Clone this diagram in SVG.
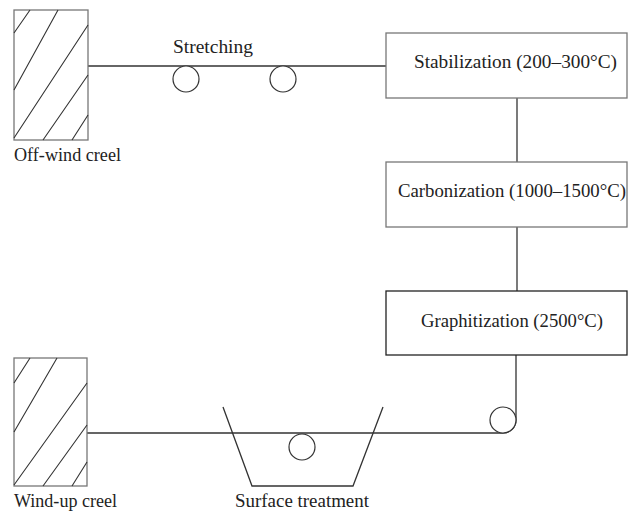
<svg xmlns="http://www.w3.org/2000/svg" width="628" height="512" viewBox="0 0 628 512">
<style>
.ln{fill:none;stroke:#333;stroke-width:1.3}
.box{fill:#fff;stroke:#777;stroke-width:1.3}
.box2{fill:#fff;stroke:#222;stroke-width:1.3}
.hatch{fill:none;stroke:#333;stroke-width:1.1}
.roll{fill:#fff;stroke:#333;stroke-width:1.2}
text{font-family:"Liberation Serif","DejaVu Serif",serif;font-size:18px;fill:#222}
</style>
<rect width="628" height="512" fill="#fff"/>
<g id="connectors">
<line class="ln" x1="88" y1="66" x2="386" y2="66"/>
<line class="ln" x1="517" y1="98" x2="517" y2="162"/>
<line class="ln" x1="517" y1="227" x2="517" y2="291"/>
<path class="ln" d="M516,355 V420 A13,13 0 0 1 503,433 H87"/>
</g>
<g id="offwind">
<rect class="box" x="14" y="10" width="74" height="130" stroke="#444"/>
<path class="hatch" d="M14,33 L30,10 M14,90 L58,10 M14,138 L88,25 M43,140 L88,75 M72,140 L88,115"/>
<text x="14" y="161" textLength="107" lengthAdjust="spacingAndGlyphs">Off-wind creel</text>
</g>
<g id="stretching">
<circle class="roll" cx="186" cy="79" r="13"/>
<circle class="roll" cx="283" cy="79" r="13"/>
<text x="173" y="53" textLength="80" lengthAdjust="spacingAndGlyphs">Stretching</text>
</g>
<g id="stabilization">
<rect class="box" x="386" y="33" width="241" height="65"/>
<text x="414" y="68" textLength="203" lengthAdjust="spacingAndGlyphs">Stabilization (200–300°C)</text>
</g>
<g id="carbonization">
<rect class="box" x="386" y="162" width="241" height="65"/>
<text x="398" y="197" textLength="228" lengthAdjust="spacingAndGlyphs">Carbonization (1000–1500°C)</text>
</g>
<g id="graphitization">
<rect class="box2" x="386" y="291" width="241" height="64"/>
<text x="421" y="327" textLength="182" lengthAdjust="spacingAndGlyphs">Graphitization (2500°C)</text>
</g>
<g id="roller">
<circle class="roll" cx="503" cy="420" r="13"/>
</g>
<g id="surface">
<path class="ln" d="M223,407 L252,486 H353 L383,407"/>
<circle class="roll" cx="302" cy="447" r="13"/>
<text x="235" y="507" textLength="134" lengthAdjust="spacingAndGlyphs">Surface treatment</text>
</g>
<g id="windup">
<rect class="box" x="14" y="358" width="73" height="128" stroke="#444"/>
<path class="hatch" d="M14,383 L30,358 M14,432 L57,358 M14,485 L87,383 M43,486 L87,425 M72,486 L87,462"/>
<text x="14" y="507" textLength="103" lengthAdjust="spacingAndGlyphs">Wind-up creel</text>
</g>
</svg>
